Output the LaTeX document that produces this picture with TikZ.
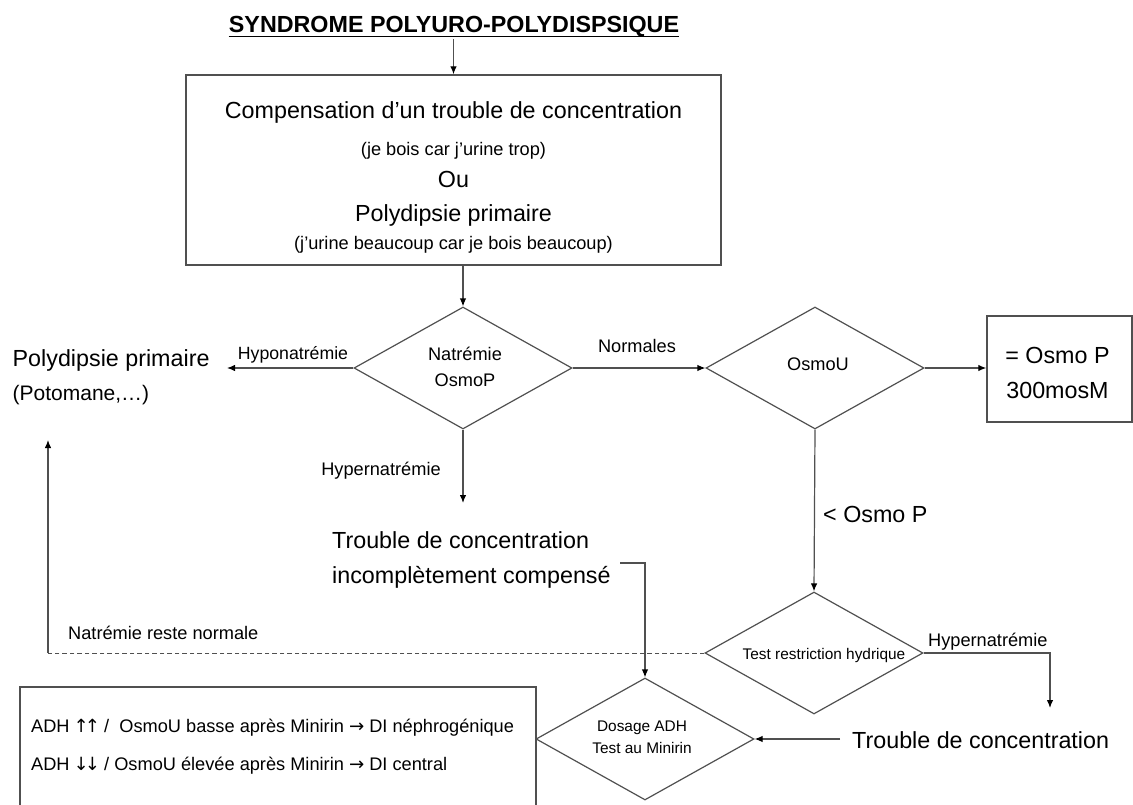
\documentclass[tikz,border=0pt]{standalone}
\usepackage{fontspec}
\setmainfont{Liberation Sans}
\newfontfamily\arrowfont{DejaVu Sans}
\usetikzlibrary{shapes.geometric,arrows.meta}

% type sizes (1pt = 1 unit of the picture)
\newcommand\szL{\fontsize{23.3}{28}\selectfont}
\newcommand\szP{\fontsize{21}{25}\selectfont}
\newcommand\szM{\fontsize{18.2}{22}\selectfont}
\newcommand\szS{\fontsize{15.4}{19}\selectfont}
% arrow glyphs in the result lines
\newcommand\arup{{\arrowfont\kern-1pt↑\kern-4pt↑\kern-1pt}}
\newcommand\ardown{{\arrowfont\kern-1pt↓\kern-4pt↓\kern-1pt}}
\newcommand\arright{{\arrowfont →}}

\definecolor{lineclr}{RGB}{80,80,80}

\begin{document}
\begin{tikzpicture}[x=1pt,y=-1pt,
  txt/.style={inner sep=0pt, anchor=base west},
  ctxt/.style={inner sep=0pt, anchor=base},
  conn/.style={draw=lineclr, line width=1.2pt},
  arr/.style={conn, -{Latex[length=8pt,width=6.5pt,color=black]}},
  dashconn/.style={draw=lineclr, line width=1pt, dash pattern=on 4.5pt off 3pt},
  decision/.style={diamond, draw=lineclr, line width=1.2pt,
                   minimum width=218pt, minimum height=122pt, inner sep=0pt},
  framebox/.style={rectangle, draw=lineclr, line width=1.4pt, inner sep=0pt}
]
\fill[white] (0,0) rectangle (1133,805);
\useasboundingbox (0,0) rectangle (1133,805);

% ---- title ----
\node[ctxt, font=\bfseries\szL] (title) at (454,33) {SYNDROME POLYURO-POLYDISPSIQUE};
\draw[line width=1.5pt] ([yshift=-3.5pt]title.base west) -- ([yshift=-3.5pt]title.base east);
\coordinate (t0) at (453.5,39);

% ---- first box ----
\node[framebox, minimum width=535pt, minimum height=190pt] (cbox) at (453.5,170) {};
\node[ctxt, font=\szL] (c1) at (453.5,118.5) {Compensation d'un trouble de concentration};
\node[ctxt, font=\szM] (c2) at (453.5,156) {(je bois car j'urine trop)};
\node[ctxt, font=\szL] (c3) at (453.5,188) {Ou};
\node[ctxt, font=\szL] (c4) at (453.5,221.5) {Polydipsie primaire};
\node[ctxt, font=\szM] (c5) at (453.5,249.5) {(j'urine beaucoup car je bois beaucoup)};

% ---- decisions ----
\node[decision] (d1) at (463,368) {};
\node[ctxt, font=\szM] (d1a) at (465,360.5) {Natrémie};
\node[ctxt, font=\szM] (d1b) at (465,386.5) {OsmoP};

\node[decision] (d2) at (815,368) {};
\node[ctxt, font=\szM] (d2a) at (818,370) {OsmoU};

\node[decision] (d3) at (814,653) {};
\node[ctxt, font=\szS] (d3a) at (824,659.5) {Test restriction hydrique};

\node[decision] (d4) at (645,739) {};
\node[ctxt, font=\szS] (d4a) at (642,731) {Dosage ADH};
\node[ctxt, font=\szS] (d4b) at (642,753.5) {Test au Minirin};

% ---- outcome texts ----
\node[txt, font=\szL] (pp) at (12.5,366.5) {Polydipsie primaire};
\node[txt, font=\szP] (pot) at (12.5,400) {(Potomane,…)};

\node[framebox, minimum width=145pt, minimum height=106pt] (ob) at (1059.5,369) {};
\node[ctxt, font=\szL] (ob1) at (1057.5,363) {= Osmo P};
\node[ctxt, font=\szL] (ob2) at (1057.5,398) {300mosM};

\node[txt, font=\szL] (tc1) at (332,548) {Trouble de concentration};
\node[txt, font=\szL] (tc2) at (332,583) {incomplètement compensé};

\node[txt, font=\szL] (tc3) at (852,748) {Trouble de concentration};

\node[framebox, minimum width=516pt, minimum height=150pt] (res) at (278,762) {};
\node[txt, font=\szM] (r1) at (31,732) {ADH \arup\ /\ \ OsmoU basse après Minirin \arright\ DI néphrogénique};
\node[txt, font=\szM] (r2) at (31,770) {ADH \ardown\ / OsmoU élevée après Minirin \arright\ DI central};

% ---- branch labels ----
\node[ctxt, font=\fontsize{17.7}{21}\selectfont] (lhypo) at (293,359) {Hyponatrémie};
\node[ctxt, font=\szM] (lhyper1) at (381,475) {Hypernatrémie};
\node[ctxt, font=\szM] (lnorm) at (637,352) {Normales};
\node[txt, font=\szL] (linf) at (823,522) {< Osmo P};
\node[txt, font=\szM] (lreste) at (68,639) {Natrémie reste normale};
\node[txt, font=\szM] (lhyper2) at (928,646.5) {Hypernatrémie};

% ---- connector end points ----
\coordinate (ppin) at (227,368);
\coordinate (tc1in) at (463,503);
\coordinate (brk) at (620,563);
\coordinate (tc3in) at (1050,708);
\coordinate (tc3out) at (840,739);
\coordinate (upfoot) at (48,653);
\coordinate (uptip) at (48,440);

% ---- connectors ----
\draw[arr] (t0) -- (cbox.north);
\draw[arr] (d1.north |- cbox.south) -- (d1.north);
\draw[arr] (d1.west) -- (ppin);
\draw[arr] (d1.east) -- (d2.west);
\draw[arr] (d2.east) -- (d2.east -| ob.west);
\draw[arr] (d1.south) -- (tc1in);
\draw[arr] (d2.south) -- (d3.north);
\draw[arr] (brk) -| (d4.north);
\draw[arr] (d3.east) -| (tc3in);
\draw[arr] (tc3out) -- (d4.east);
\draw[dashconn] (d3.west) -- (upfoot);
\draw[arr] (upfoot) -- (uptip);
\end{tikzpicture}
\end{document}
